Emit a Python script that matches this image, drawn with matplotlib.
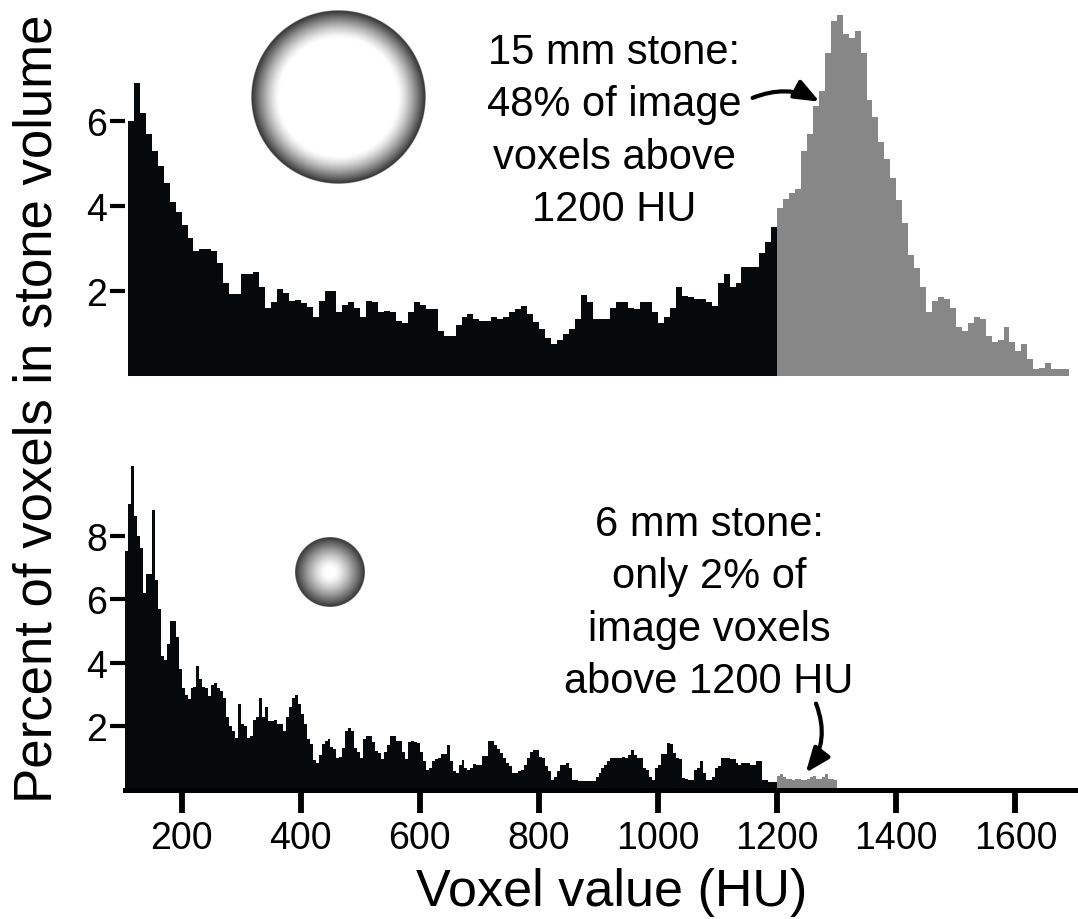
import numpy as np
import matplotlib.pyplot as plt
from matplotlib.patches import FancyArrowPatch

plt.rcParams['font.family'] = ['Liberation Sans', 'DejaVu Sans']

# ---- data: percent of voxels per HU bin ----
# 15 mm stone, 10 HU bins starting at 110 HU
top_start = 110
top_width = 10
split_hu = 1200
top_below = [
    6.0, 6.9, 6.2, 5.7, 5.3, 4.95, 4.55, 4.1, 3.85, 3.55,
    3.25, 2.95, 3.0, 3.0, 2.95, 2.65, 2.2, 1.93, 1.93, 2.4,
    2.4, 2.45, 2.1, 1.6, 1.75, 2.05, 1.95, 1.77, 1.78, 1.72,
    1.63, 1.4, 1.77, 2.0, 2.0, 1.5, 1.66, 1.73, 1.6, 1.38,
    1.77, 1.75, 1.5, 1.54, 1.5, 1.3, 1.25, 1.5, 1.73, 1.66,
    1.58, 1.58, 1.07, 0.95,
    0.95, 1.2, 1.38, 1.45, 1.34, 1.3, 1.3, 1.38, 1.35, 1.38,
    1.5, 1.58, 1.65, 1.45, 1.26, 1.1, 0.9, 0.75, 0.85, 1.0,
    1.1, 1.34, 1.9, 1.75, 1.34, 1.34, 1.34, 1.6, 1.73, 1.73,
    1.6, 1.58, 1.73, 1.73, 1.5, 1.25, 1.4, 1.6, 2.1, 1.89,
    1.85, 1.81, 1.81, 1.73, 1.65, 2.2, 2.4, 2.1, 2.2, 2.56,
    2.56, 2.56, 2.9, 3.15, 3.5,
]
top_above = [
    3.95, 4.17, 4.3, 4.4, 5.3, 5.7, 6.36, 6.7, 7.6, 8.35,
    8.5, 8.05, 7.95, 8.12, 7.6, 6.5, 6.1, 5.5, 5.1, 4.65,
    4.15, 3.6, 2.85, 2.55, 2.1, 1.5, 1.77, 1.85, 1.81, 1.6,
    1.15, 1.05, 1.25, 1.4, 1.35, 0.95, 0.79, 0.85, 1.15, 0.8,
    0.58, 0.75, 0.4, 0.16, 0.2, 0.3, 0.16, 0.16, 0.16,
]

# 6 mm stone, 5 HU bins starting at 105 HU
bottom_start = 105
bottom_width = 5
bottom_below = [
    7.5, 9.0, 10.2, 8.6, 8.0, 7.6, 6.2, 6.8, 6.8, 8.8,
    6.6, 5.7, 4.2, 4.1, 4.6, 5.3, 5.3, 4.8, 3.8, 3.2,
    3.0, 2.86, 3.2, 3.25, 3.9, 3.5, 3.25, 3.2, 2.95, 3.3,
    3.35, 3.2, 3.1, 2.9, 2.3, 2.0, 1.85, 1.65, 2.7, 2.07,
    2.0, 1.65, 1.7, 2.2, 2.28, 2.9, 2.28, 2.6, 2.17, 2.17,
    2.2, 2.07, 2.07, 1.86, 2.3, 2.6, 2.9, 3.0, 2.7, 2.4,
    2.07, 1.6, 1.45, 0.95, 0.85, 1.1, 1.45, 1.55, 1.6, 1.35,
    1.3, 1.0, 1.05, 1.33, 1.86, 1.95, 1.86, 1.33, 1.2, 1.0,
    1.59, 1.7, 1.7, 1.5, 1.22, 1.15, 0.96, 1.2, 1.43, 1.7,
    1.7, 1.55, 1.54, 1.2, 0.96, 1.5, 1.54, 1.5, 1.49, 1.2,
    0.9, 0.64, 0.7, 0.9, 0.96, 1.01, 1.12, 1.12, 1.4, 0.9,
    0.6, 0.54, 0.8, 0.93, 0.7, 0.64, 0.7, 0.82, 0.8, 0.8,
    1.07, 1.07, 1.54, 1.54, 1.43, 1.3, 1.15, 1.0, 0.85, 0.75,
    0.54, 0.54, 0.6, 0.64, 0.8, 1.01, 1.2, 1.27, 1.25, 1.05,
    1.01, 0.75, 0.6, 0.33, 0.4, 0.59, 0.8, 0.8, 0.86, 0.7,
    0.33, 0.33, 0.27, 0.27, 0.27, 0.29, 0.29, 0.29, 0.4, 0.54,
    0.7, 0.8, 0.9, 1.01, 1.01, 1.01, 1.01, 1.05, 1.01, 1.1,
    1.27, 1.1, 1.01, 1.01, 0.7, 0.64, 0.4, 0.33, 0.7, 0.8,
    1.12, 1.12, 1.49, 1.45, 1.17, 1.0, 0.96, 0.38, 0.35, 0.33,
    0.33, 0.64, 0.7, 0.9, 0.54, 0.33, 0.33, 0.4, 0.7, 0.75,
    1.01, 1.01, 1.01, 0.96, 0.96, 0.85, 0.8, 0.85, 0.86, 0.86,
    0.8, 0.8, 0.9, 0.9, 0.33, 0.3, 0.25, 0.25, 0.25,
]
bottom_above = [
    0.45, 0.5, 0.4, 0.35, 0.35, 0.3, 0.35, 0.35, 0.3, 0.3,
    0.35, 0.4, 0.45, 0.35, 0.35, 0.4, 0.5, 0.35, 0.35, 0.3,
]

x_ticks = [200, 400, 600, 800, 1000, 1200, 1400, 1600]
top_yticks = [2, 4, 6]
bottom_yticks = [2, 4, 6, 8]

top_text = "15 mm stone:\n48% of image\nvoxels above\n1200 HU"
bottom_text = "6 mm stone:\nonly 2% of\nimage voxels\nabove 1200 HU"

DARK = '#05090b'
GRAY = '#878787'
W, H = 1078, 920


def edges(start, width, n):
    return start + width * np.arange(n + 1)


def fx(px):
    return px / W


def fy(py):
    return 1 - py / H


fig = plt.figure(figsize=(W / 100, H / 100), dpi=100)

ax1 = fig.add_axes([fx(125), fy(377), 950 / W, 374 / H])
ax2 = fig.add_axes([fx(125), fy(791), 950 / W, 334 / H])

ax1.stairs(top_below, edges(top_start, top_width, len(top_below)),
           fill=True, color=DARK, lw=0)
ax1.stairs(top_above, edges(split_hu, top_width, len(top_above)),
           fill=True, color=GRAY, lw=0)
ax2.stairs(bottom_below, edges(bottom_start, bottom_width, len(bottom_below)),
           fill=True, color=DARK, lw=0)
ax2.stairs(bottom_above, edges(split_hu, bottom_width, len(bottom_above)),
           fill=True, color=GRAY, lw=0)

for ax in (ax1, ax2):
    ax.set_xlim(105, 1700)
    for s in ('top', 'right', 'left'):
        ax.spines[s].set_visible(False)
    ax.tick_params(axis='y', direction='out', length=11, width=3,
                   labelsize=27, pad=2)
    ax.set_facecolor('none')

ax1.set_ylim(0, 8.8)
ax1.set_yticks(top_yticks)
ax1.spines['bottom'].set_visible(False)
ax1.set_xticks([])

ax2.set_ylim(0, 10.5)
ax2.set_yticks(bottom_yticks)
ax2.spines['bottom'].set_linewidth(3.6)
ax2.set_xticks(x_ticks)
ax2.tick_params(axis='x', direction='out', length=16.5, width=4.2,
                labelsize=27, pad=5)

fig.text(0.012, fy(409), "Percent of voxels in stone volume", rotation=90,
         ha='left', va='center', fontsize=38)
fig.text(fx(612), fy(906), "Voxel value (HU)", ha='center', va='baseline',
         fontsize=37.5)

fig.text(fx(614), fy(33), top_text, ha='center', va='top', fontsize=30,
         linespacing=1.4, multialignment='center')
fig.text(fx(709), fy(505), bottom_text, ha='center', va='top', fontsize=30,
         linespacing=1.4, multialignment='center')

# curved arrows
arrow_style = '-|>,head_length=15,head_width=6'
fig.add_artist(FancyArrowPatch(
    (fx(750), fy(100)), (fx(822), fy(104)), transform=fig.transFigure,
    connectionstyle='arc3,rad=-0.25', arrowstyle=arrow_style,
    lw=3, color='black', mutation_scale=1))
fig.add_artist(FancyArrowPatch(
    (fx(815), fy(702)), (fx(804), fy(776)), transform=fig.transFigure,
    connectionstyle='arc3,rad=-0.3', arrowstyle=arrow_style,
    lw=3, color='black', mutation_scale=1))


def shaded_disc(cx, cy, r, inner, dark):
    ax = fig.add_axes([fx(cx - r), fy(cy + r), 2 * r / W, 2 * r / H])
    n = 400
    yy, xx = np.mgrid[-1:1:n * 1j, -1:1:n * 1j]
    rr = np.hypot(xx, yy)
    t = np.clip((rr - inner) / (1 - inner), 0, 1)
    shade = 1 - (1 - dark) * t ** 1.3
    img = np.zeros((n, n, 4))
    img[..., 0] = img[..., 1] = img[..., 2] = shade
    img[..., 3] = np.clip((1 - rr) * n / 2, 0, 1)
    ax.imshow(img, extent=(0, 1, 0, 1), interpolation='bilinear', aspect='auto')
    ax.set_axis_off()


shaded_disc(338, 98, 87, 0.68, 0.18)
shaded_disc(330, 573, 35, 0.15, 0.2)

fig.savefig('out.png', dpi=100)
